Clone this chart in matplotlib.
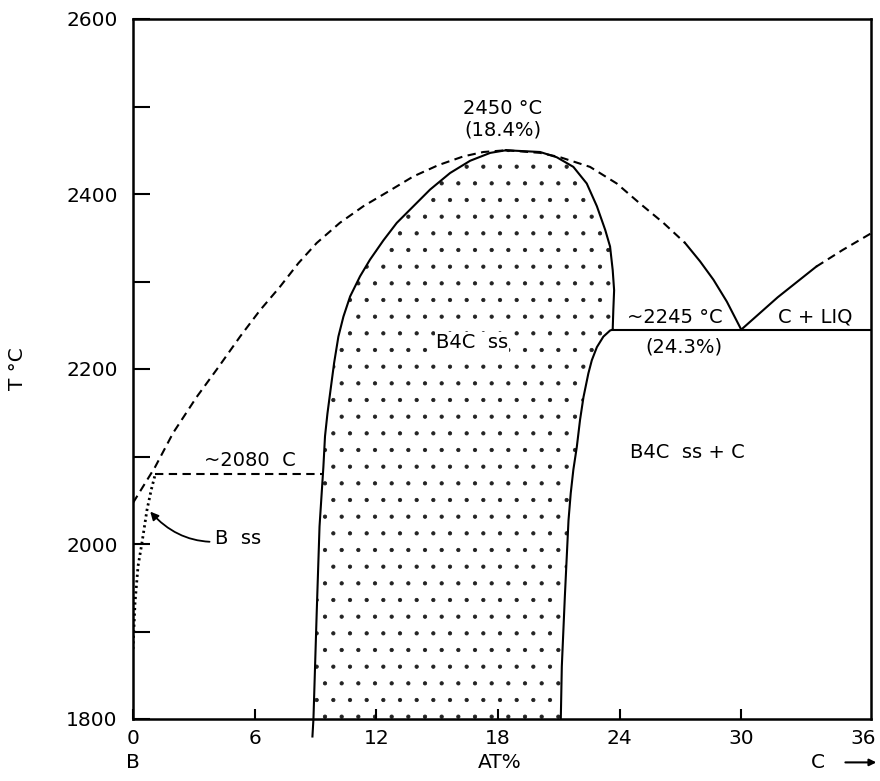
import matplotlib
matplotlib.use("Agg")
import matplotlib.pyplot as plt
import matplotlib.transforms as mtransforms

plt.rcParams["font.family"] = ["DejaVu Sans"]
plt.rcParams["hatch.linewidth"] = 0.6

# ── B–C phase boundaries (x = at.% C, T in °C) ──────────────────────────
# liquidus, boron side up to the congruent maximum
LIQ_B_X = [0.0, 1.09, 1.98, 3.14, 4.21, 5.28, 6.26, 7.25, 8.16, 9.06,
           10.2, 11.36, 12.6, 13.82, 15.06, 16.3, 17.28, 18.4]
LIQ_B_T = [2047, 2088, 2127, 2168, 2202, 2237, 2267, 2294, 2321, 2344,
           2367, 2386, 2403, 2420, 2433, 2443, 2448, 2450]

# liquidus from the maximum down to the eutectic (dashed part, then solid)
LIQ_R_DASH_X = [18.4, 20.08, 21.07, 22.54, 23.86, 25.01, 26.16, 27.23]
LIQ_R_DASH_T = [2450, 2447, 2442, 2431, 2412, 2389, 2367, 2344]
LIQ_R_SOLID_X = [27.23, 27.97, 28.63, 29.29, 30.0]
LIQ_R_SOLID_T = [2344, 2323, 2302, 2277, 2245]

# graphite liquidus above the eutectic
LIQ_C_SOLID_X = [30.0, 31.8, 33.7]
LIQ_C_SOLID_T = [2245, 2282, 2317]
LIQ_C_DASH_X = [33.7, 35.0, 36.4]
LIQ_C_DASH_T = [2317, 2336, 2355]

# eutectic isotherm
EUT_X = [23.66, 36.4]
EUT_T = [2245, 2245]

# B4C solid solution field
B4C_LEFT_X = [8.85, 8.9, 9.06, 9.2, 9.39, 9.47, 9.59, 9.72, 9.92, 10.13,
              10.38, 10.71, 11.2, 11.69, 12.35, 13.01, 13.83, 14.65,
              15.64, 16.63, 17.62, 18.4]
B4C_LEFT_T = [1780, 1800, 1921, 2020, 2088, 2123, 2149, 2172, 2207, 2237,
              2260, 2283, 2306, 2325, 2347, 2367, 2386, 2405,
              2424, 2438, 2447, 2450]
B4C_RIGHT_X = [18.4, 20.08, 20.9, 21.72, 22.38, 22.88, 23.29, 23.53,
               23.66, 23.73, 23.69, 23.66]
B4C_RIGHT_T = [2450, 2448, 2442, 2431, 2412, 2386, 2359, 2340,
               2313, 2290, 2267, 2245]
B4C_SOLVUS_X = [23.66, 23.53, 23.2, 22.88, 22.63, 22.46, 22.22, 22.05,
                21.89, 21.72, 21.59, 21.48, 21.3, 21.15, 21.1]
B4C_SOLVUS_T = [2245, 2244, 2237, 2225, 2210, 2195, 2168, 2142,
                2111, 2085, 2058, 2027, 1940, 1860, 1800]

# boron solid solution boundary and the 2080 °C isotherm
BSS_X = [0.0, 0.1, 0.25, 0.44, 0.69, 0.9, 1.1]
BSS_T = [1880, 1933, 1975, 2001, 2039, 2062, 2080]
ISO_X = [1.1, 9.39]
ISO_T = [2080, 2080]

X_TICKS = [0, 6, 12, 18, 24, 30, 36]
Y_TICKS = [1800, 2000, 2200, 2400, 2600]
Y_MINOR = [1900, 2100, 2300, 2500]

DASH = (0, (4, 2.6))
LW = 1.5
FS = 14
TICK_FS = 14.5

fig = plt.figure(figsize=(8.8, 7.81), dpi=100)
ax = fig.add_axes([133 / 880, 1 - 719 / 781, 738 / 880, 700 / 781])

# stippled B4C ss field
field_x = B4C_LEFT_X[1:] + B4C_RIGHT_X[1:] + B4C_SOLVUS_X[1:]
field_t = B4C_LEFT_T[1:] + B4C_RIGHT_T[1:] + B4C_SOLVUS_T[1:]
ax.fill(field_x, field_t, facecolor="none", edgecolor="#222222",
        hatch=".", linewidth=0)

# solid boundaries
ax.plot(B4C_LEFT_X, B4C_LEFT_T, color="black", lw=LW, clip_on=False)
ax.plot(B4C_RIGHT_X, B4C_RIGHT_T, color="black", lw=LW)
ax.plot(B4C_SOLVUS_X, B4C_SOLVUS_T, color="black", lw=LW)
ax.plot(EUT_X, EUT_T, color="black", lw=LW)
ax.plot(LIQ_R_SOLID_X, LIQ_R_SOLID_T, color="black", lw=LW)
ax.plot(LIQ_C_SOLID_X, LIQ_C_SOLID_T, color="black", lw=LW)

# uncertain boundaries
ax.plot(LIQ_B_X, LIQ_B_T, color="black", lw=LW, linestyle=DASH)
ax.plot(LIQ_R_DASH_X, LIQ_R_DASH_T, color="black", lw=LW, linestyle=DASH)
ax.plot(LIQ_C_DASH_X, LIQ_C_DASH_T, color="black", lw=LW, linestyle=DASH)
ax.plot(ISO_X, ISO_T, color="black", lw=LW, linestyle=DASH)
ax.plot(BSS_X, BSS_T, color="black", lw=2.0, linestyle=(0, (0.8, 1.2)))

# field and point labels
ax.text(18.25, 2498, "2450 °C", ha="center", va="center", fontsize=FS)
ax.text(18.25, 2473, "(18.4%)", ha="center", va="center", fontsize=FS)
ax.text(26.74, 2259, "~2245 °C", ha="center", va="center", fontsize=FS)
ax.text(27.18, 2225, "(24.3%)", ha="center", va="center", fontsize=FS)
ax.text(33.65, 2259, "C + LIQ", ha="center", va="center", fontsize=FS)
ax.text(16.72, 2230, "B4C  ss", ha="center", va="center", fontsize=FS,
        bbox=dict(facecolor="white", edgecolor="none", pad=1))
ax.text(27.33, 2105, "B4C  ss + C", ha="center", va="center", fontsize=FS)
ax.text(5.77, 2096, "~2080  C", ha="center", va="center", fontsize=FS)
ax.annotate("B  ss", xy=(0.85, 2037), xytext=(4.05, 2006),
            ha="left", va="center", fontsize=FS,
            arrowprops=dict(arrowstyle="-|>", color="black", lw=1.3,
                            connectionstyle="arc3,rad=-0.3",
                            shrinkA=2, shrinkB=0, mutation_scale=12))

# axes
ax.set_xlim(0, 36.4)
ax.set_ylim(1800, 2600)
ax.set_xticks(X_TICKS)
ax.set_yticks(Y_TICKS)
ax.set_yticks(Y_MINOR, minor=True)
ax.xaxis.get_major_ticks()[-1].tick1line.set_visible(False)
ax.tick_params(axis="y", which="both", direction="in", length=12,
               width=1.5, labelsize=TICK_FS, pad=11)
ax.tick_params(axis="x", direction="in", length=7, width=1.5,
               labelsize=TICK_FS, pad=7)
for sp in ax.spines.values():
    sp.set_linewidth(1.8)

ax.set_ylabel("T °C", fontsize=TICK_FS)
ax.yaxis.set_label_coords(-0.143, 0.5)

# composition end-members under the x axis
trans = mtransforms.blended_transform_factory(ax.transData, ax.transAxes)
ax.text(0, -0.062, "B", transform=trans, ha="center", va="center",
        fontsize=TICK_FS, clip_on=False)
ax.text(18.1, -0.062, "AT%", transform=trans, ha="center", va="center",
        fontsize=TICK_FS, clip_on=False)
ax.text(33.8, -0.062, "C", transform=trans, ha="center", va="center",
        fontsize=TICK_FS, clip_on=False)
ax.annotate("", xy=(36.8, -0.062), xytext=(35.0, -0.062),
            xycoords=trans, textcoords=trans, annotation_clip=False,
            arrowprops=dict(arrowstyle="-|>", color="black", lw=1.5,
                            mutation_scale=10))

fig.savefig("out.png", dpi=100)
